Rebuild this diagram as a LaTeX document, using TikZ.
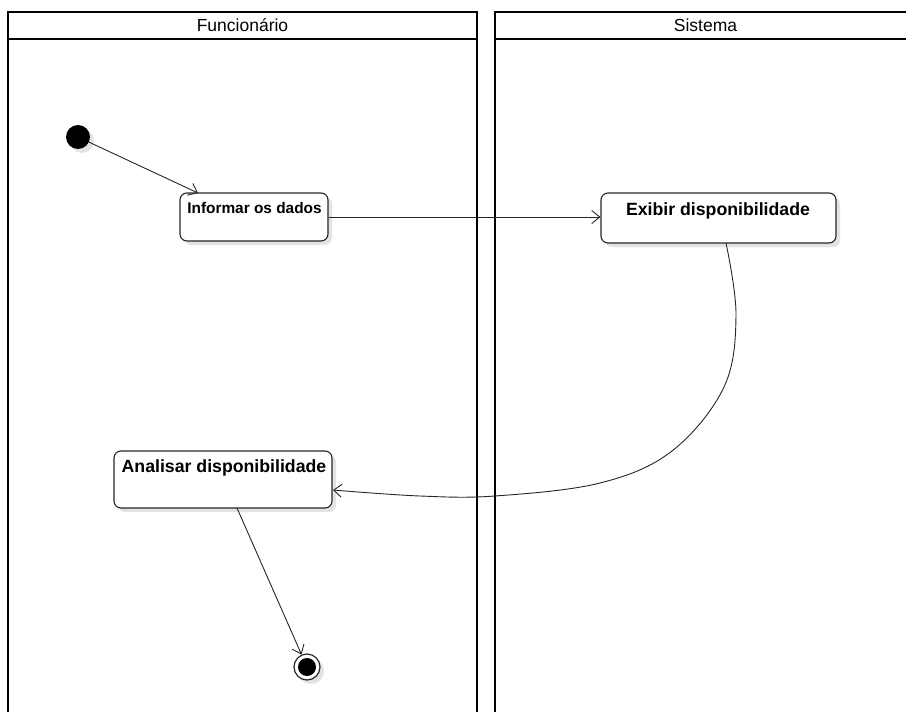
\documentclass[tikz,border=0pt]{standalone}
\usepackage{fontspec}
\setmainfont{Liberation Sans}
\usetikzlibrary{shadows,arrows.meta,calc}
\begin{document}
\begin{tikzpicture}[x=1pt,y=-1pt,
  lane/.style={line width=2pt, draw=black},
  shad/.style={drop shadow={shadow xshift=4pt, shadow yshift=-4pt, fill=black!11, opacity=1}},
  act/.style={draw=black!85, line width=1.1pt, rounded corners=7pt, fill=white, shad, inner sep=0pt},
  flow/.style={draw=black!85, line width=0.9pt, -{Straight Barb[length=8pt,width=13pt,line width=0.9pt]}},
  hdr/.style={font=\fontsize{17.5}{20}\selectfont},
  lbl/.style={font=\fontsize{17.7}{20}\selectfont\bfseries, inner sep=0pt, anchor=base}
]
\useasboundingbox (0,0) rectangle (906,712);
\begin{scope}
\clip (0,0) rectangle (906,712);
\draw[lane] (8,720) -- (8,11.5) -- (477,11.5) -- (477,720);
\draw[lane] (8,39) -- (477,39);
\draw[lane] (495,720) -- (495,11.5) -- (920,11.5);
\draw[lane] (495,39) -- (920,39);
\end{scope}
\node[hdr] (h1) at (242.5,25.5) {Funcionário};
\node[hdr] (h2) at (705.5,25.5) {Sistema};

\node[act, minimum width=148pt, minimum height=48pt] (inf) at (254,217) {};
\node[lbl, font=\fontsize{15.4}{18}\selectfont\bfseries] (tinf) at (254.5,213.3) {Informar os dados};
\node[act, minimum width=235pt, minimum height=50pt] (exb) at (718.5,218) {};
\node[lbl] (texb) at (718,215) {Exibir disponibilidade};
\node[act, minimum width=218pt, minimum height=57pt] (ana) at (223,479.5) {};
\node[lbl] (tana) at (224,472.3) {Analisar disponibilidade};

\node[circle, fill=black, minimum size=24pt, inner sep=0pt, shad] (s) at (78,137) {};
\node[circle, draw=black!85, line width=1.2pt, fill=white, minimum size=26pt, inner sep=0pt, shad] (e) at (307,667) {};
\node[circle, fill=black, minimum size=18pt, inner sep=0pt] (ei) at (e) {};

\coordinate (infin) at (198,193);
\draw[flow] (s) -- (infin);
\draw[flow] (inf.east) -- (inf.east -| exb.west);
\coordinate (c1) at (726,243);
\coordinate (c2) at (333,490);
\draw[flow] plot[smooth, tension=0.6] coordinates {(c1) (736,315) (724,387) (672,451) (600,483) (495,496) (420,496) (c2)};
\coordinate (c3) at (237,508);
\draw[flow] (c3) -- (e);
\end{tikzpicture}
\end{document}
